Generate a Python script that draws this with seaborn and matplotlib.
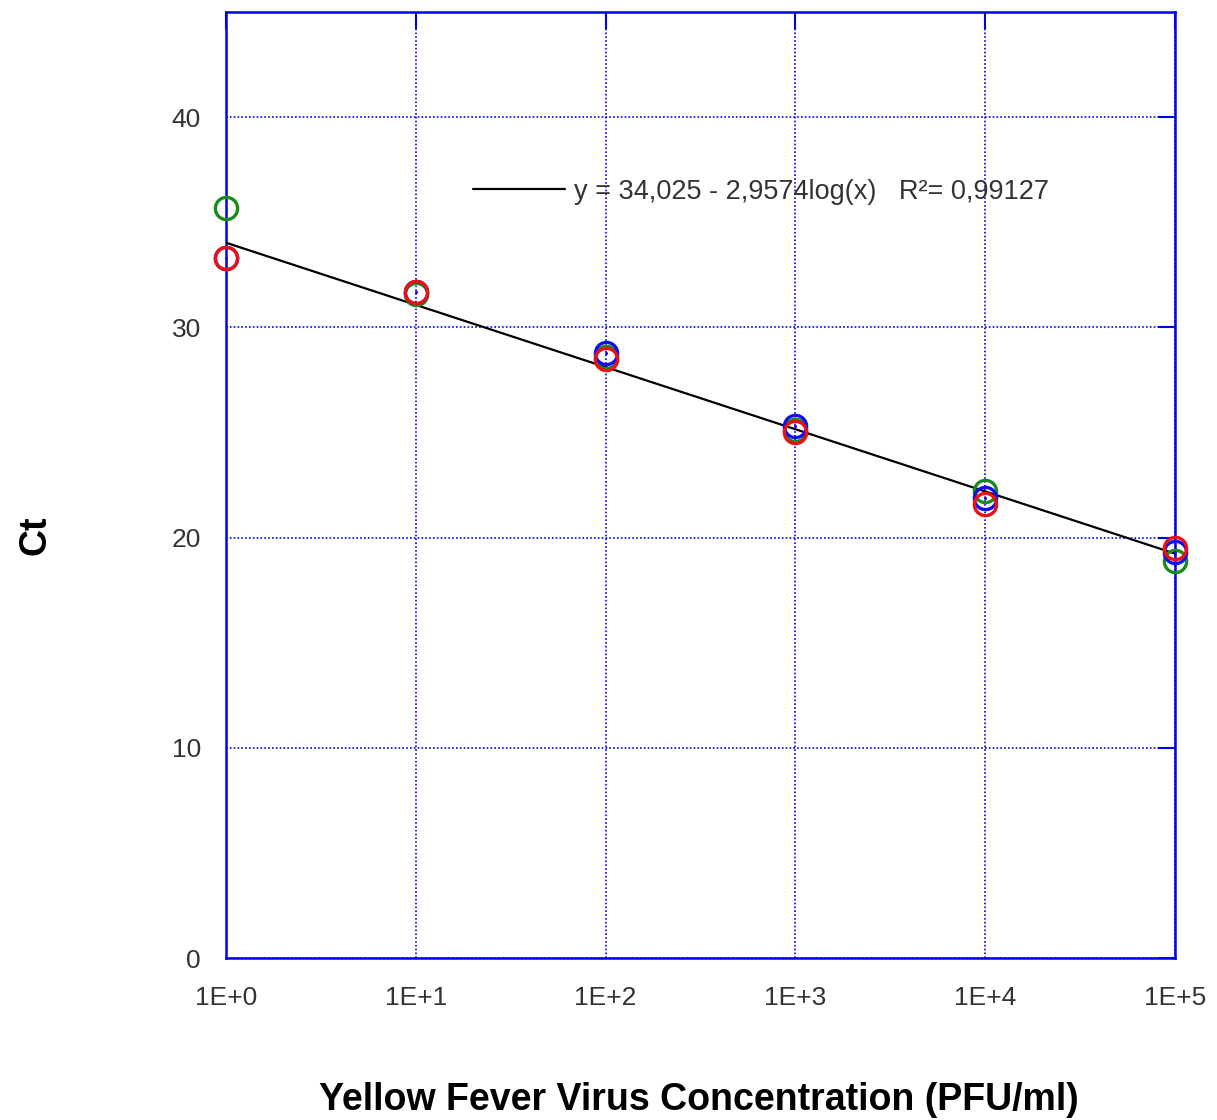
import numpy as np
import pandas as pd
import matplotlib
matplotlib.use("Agg")
import matplotlib.pyplot as plt
import matplotlib.ticker as mticker
import seaborn as sns

# dati
conc = [1, 10, 100, 1000, 10000, 100000]
ct_green = [35.7, 31.6, 28.6, 25.1, 22.2, 18.9]
ct_blue = [33.3, 31.7, 28.8, 25.3, 21.9, 19.3]
ct_red = [33.3, 31.7, 28.5, 25.0, 21.6, 19.5]

# retta di regressione riportata nel grafico
intercept = 34.025
slope = -2.9574
fit_label = "y = 34,025 - 2,9574log(x)   R²= 0,99127"

xticks = [1, 10, 100, 1000, 10000, 100000]
xtick_labels = ["1E+0", "1E+1", "1E+2", "1E+3", "1E+4", "1E+5"]
yticks = [0, 10, 20, 30, 40]

sns.set_theme(style="white")
plt.rcParams["font.family"] = ["Liberation Sans", "DejaVu Sans"]

blue_axis = "#0000ee"

fig = plt.figure(figsize=(12.17, 11.2), dpi=100)
ax = fig.add_axes([0.1857, 0.1446, 0.7798, 0.8447])

# linea di fit
fit_x = np.array(conc, dtype=float)
fit_df = pd.DataFrame({"x": fit_x, "y": intercept + slope * np.log10(fit_x)})
sns.lineplot(data=fit_df, x="x", y="y", color="black", linewidth=1.6,
             label=fit_label, ax=ax, zorder=3)

# punti (cerchi vuoti), rosso sopra
for vals, col in [(ct_green, "#1a8a1a"), (ct_blue, "#1010ee"), (ct_red, "#ee1010")]:
    df = pd.DataFrame({"conc": conc, "ct": vals})
    sns.lineplot(data=df, x="conc", y="ct", marker="o", linestyle="none",
                 markerfacecolor="none", markeredgecolor=col, markersize=16,
                 markeredgewidth=2.4, ax=ax, zorder=4, clip_on=False)

# puntino al centro dei cerchi blu
sns.scatterplot(x=conc, y=ct_blue, color="#1010ee", s=5, linewidth=0,
                ax=ax, zorder=6, clip_on=False)

ax.set_xscale("log")
ax.set_xlim(1, 100000)
ax.set_ylim(0, 45)
ax.set_xticks(xticks)
ax.set_xticklabels(xtick_labels)
ax.xaxis.set_minor_locator(mticker.NullLocator())
ax.set_yticks(yticks)

ax.grid(True, color=blue_axis, linestyle=(0, (1, 1.3)), linewidth=1.2)
for sp in ax.spines.values():
    sp.set_color(blue_axis)
    sp.set_linewidth(1.8)

ax.tick_params(axis="both", direction="in", top=True, right=True, length=12,
               width=1.5, color=blue_axis, labelsize=19, labelcolor="#333333")
ax.tick_params(axis="x", pad=20)
ax.tick_params(axis="y", pad=18)

ax.set_xlabel("Yellow Fever Virus Concentration (PFU/ml)", fontsize=27,
              fontweight="bold", va="center", color="black")
ax.set_ylabel("Ct", fontsize=27, fontweight="bold", va="center", color="black")
ax.xaxis.set_label_coords(0.498, -0.150)
ax.yaxis.set_label_coords(-0.201, 0.447)

leg = ax.legend(loc="center left", bbox_to_anchor=(0.26, 0.81), frameon=False,
                fontsize=19.5, handlelength=3.4, handletextpad=0.35,
                borderpad=0, borderaxespad=0)
for t in leg.get_texts():
    t.set_color("#333333")

fig.savefig("out.png", dpi=100)
